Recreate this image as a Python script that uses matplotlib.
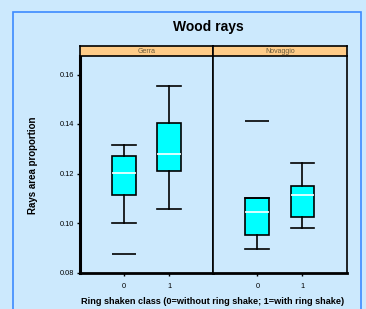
import numpy as np
import matplotlib
matplotlib.use("Agg")
import matplotlib.pyplot as plt
from matplotlib.patches import Rectangle

plt.rcParams['font.family'] = ['Liberation Sans', 'DejaVu Sans']

# data
sites = ['Gerra', 'Novaggio']
classes = ['0', '1']
# per site, per class: lower whisker, q1, median, q3, upper whisker
whislo = [[0.1000, 0.1057], [0.0896, 0.0979]]
q1 = [[0.1114, 0.1212], [0.0952, 0.1023]]
med = [[0.1201, 0.1278], [0.1044, 0.1114]]
q3 = [[0.1269, 0.1405], [0.1103, 0.1149]]
whishi = [[0.1316, 0.1552], [0.1103, 0.1244]]
outliers = [[[0.0876], []], [[0.1411], []]]
yticks = [0.08, 0.10, 0.12, 0.14, 0.16]

bg = '#cce9fd'
W, H = 366, 309
fig = plt.figure(figsize=(W / 100, H / 100), dpi=100, facecolor=bg)

# outer blue frame
fig.patches.append(Rectangle((13 / W, -0.05), 348 / W, (H - 12) / H + 0.05,
                             transform=fig.transFigure, fill=False,
                             edgecolor='#3d8bff', lw=1.2))

fig.text(208 / W, 1 - 27 / H, 'Wood rays', ha='center', va='center',
         fontsize=10, fontweight='bold')
fig.text(33 / W, 1 - 165 / H, 'Rays area proportion', ha='center', va='center',
         rotation=90, fontsize=7, fontweight='bold')
fig.text(213 / W, 1 - 302 / H, 'Ring shaken class (0=without ring shake; 1=with ring shake)',
         ha='center', va='center', fontsize=6.6, fontweight='bold')

x0, pw = 80, 133.3
ytop, ybot = 56, 272.5
ylo = 0.08
yhi = 0.08 + (ybot - ytop) / 49.5 * 0.02
bw = 0.53

for s in range(2):
    left = (x0 + s * pw) / W
    ax = fig.add_axes([left, 1 - ybot / H, pw / W, (ybot - ytop) / H])
    ax.set_facecolor(bg)
    stats = []
    for c in range(2):
        stats.append(dict(whislo=whislo[s][c], q1=q1[s][c], med=med[s][c],
                          q3=q3[s][c], whishi=whishi[s][c], fliers=[]))
    ax.bxp(stats, positions=[0, 1], widths=bw, patch_artist=True,
           showfliers=False,
           boxprops=dict(facecolor='#00ffff', edgecolor='black', lw=1.2),
           medianprops=dict(color='white', lw=1.2),
           whiskerprops=dict(color='black', lw=1.2),
           capprops=dict(color='black', lw=1.2),
           capwidths=bw)
    for c in range(2):
        for v in outliers[s][c]:
            ax.hlines(v, c - bw / 2, c + bw / 2, color='black', lw=1.2)
    ax.set_xlim(-0.98, 1.98)
    ax.set_ylim(ylo, yhi)
    ax.set_xticks([0, 1])
    ax.set_xticklabels(classes, fontsize=5.3)
    ax.tick_params(axis='x', length=2.5, width=1, pad=5)
    if s == 0:
        ax.set_yticks(yticks)
        ax.set_yticklabels(['%.2f' % v for v in yticks], fontsize=5.3)
        ax.tick_params(axis='y', length=2.5, width=1, pad=2)
        ax.spines['left'].set_linewidth(2.2)
    else:
        ax.set_yticks([])
        ax.spines['left'].set_linewidth(1.2)
    ax.spines['bottom'].set_linewidth(2.0)
    ax.spines['top'].set_visible(False)
    ax.spines['right'].set_linewidth(1.2)

    # strip
    sax = fig.add_axes([left, 1 - ytop / H, pw / W, 10 / H])
    sax.set_facecolor('#ffcc88')
    sax.set_xticks([])
    sax.set_yticks([])
    for sp in sax.spines.values():
        sp.set_linewidth(1.2)
    sax.text(0.5, 0.45, sites[s], ha='center', va='center', fontsize=5,
             color='#6b5a3a', transform=sax.transAxes)

fig.savefig('out.png', dpi=100, facecolor=bg)
